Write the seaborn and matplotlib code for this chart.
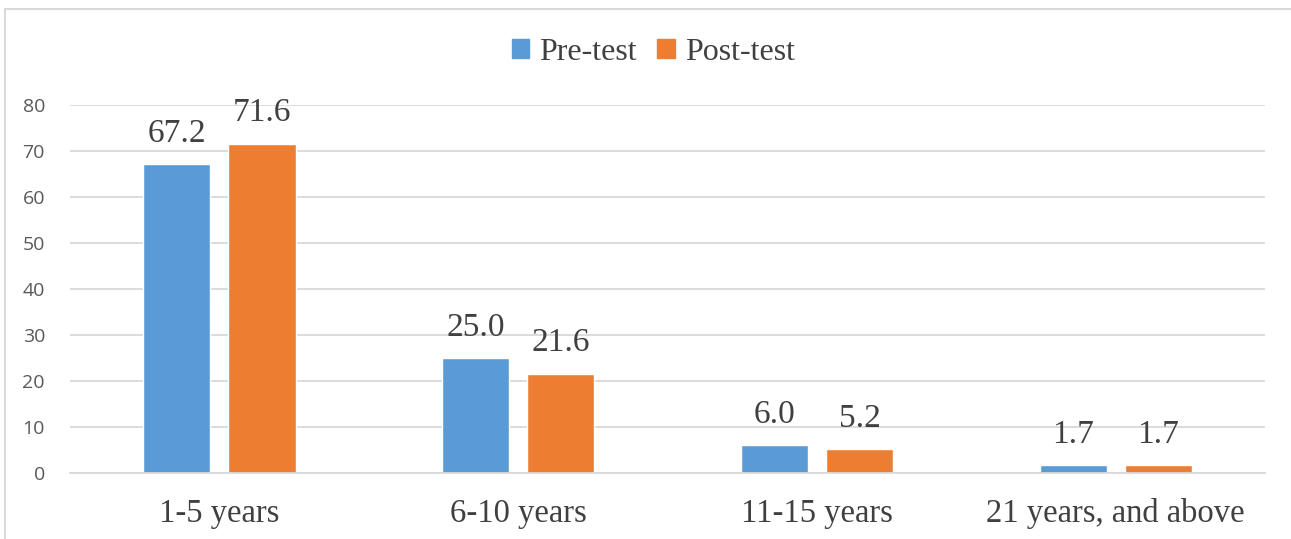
import matplotlib
matplotlib.use("Agg")
import matplotlib.pyplot as plt
from matplotlib.lines import Line2D
import seaborn as sns
import pandas as pd

# Years of experience groups and percentages for each test
categories = ["1-5 years", "6-10 years", "11-15 years", "21 years, and above"]
pre_test = [67.2, 25.0, 6.0, 1.7]
post_test = [71.6, 21.6, 5.2, 1.7]
series_names = ["Pre-test", "Post-test"]
y_ticks = [0, 10, 20, 30, 40, 50, 60, 70, 80]

colors = {"Pre-test": "#5B9BD5", "Post-test": "#ED7D31"}

df = pd.DataFrame({
    "category": categories * 2,
    "series": [series_names[0]] * len(categories) + [series_names[1]] * len(categories),
    "value": pre_test + post_test,
})

sns.set_theme(style="white")
serif = ["Liberation Serif", "DejaVu Serif"]
sans = ["Open Sans", "DejaVu Sans"]

fig = plt.figure(figsize=(12.91, 5.39), dpi=100)
ax = fig.add_axes([0.0542, 0.1224, 0.9258, 0.6828])

sns.barplot(data=df, x="category", y="value", hue="series",
            order=categories, hue_order=series_names, palette=colors,
            width=0.57, gap=0.21, saturation=1, errorbar=None, ax=ax,
            legend=False)

for container in ax.containers:
    ax.bar_label(container, fmt="%.1f", padding=11, fontsize=24,
                 family=serif, color="#404040")

ax.set_ylim(0, 80)
ax.set_xlim(-0.5, len(categories) - 0.5)
ax.set_yticks(y_ticks)
ax.set_yticklabels([str(t) for t in y_ticks], family=sans, fontsize=14,
                   color="#595959")
ax.set_xticks(range(len(categories)))
ax.set_xticklabels(categories, family=serif, fontsize=23.5, color="#404040")
ax.tick_params(axis="x", length=0, pad=18)
ax.tick_params(axis="y", length=0, pad=18)
ax.set_xlabel("")
ax.set_ylabel("")
ax.yaxis.grid(True, color="#D9D9D9", linewidth=1.3)
ax.set_axisbelow(True)
for side in ["top", "right", "left"]:
    ax.spines[side].set_visible(False)
ax.spines["bottom"].set_color("#D9D9D9")
ax.spines["bottom"].set_linewidth(1.3)

handles = [plt.Rectangle((0, 0), 1, 1, color=colors[s]) for s in series_names]
fig.legend(handles, series_names, loc="center", bbox_to_anchor=(0.506, 0.903),
           ncol=2, frameon=False, prop={"family": serif, "size": 23},
           labelcolor="#404040", handlelength=0.55, handleheight=0.55,
           handletextpad=0.3, columnspacing=0.65)

# Chart frame
fig.add_artist(Line2D([0.0039, 1.0], [0.983, 0.983], transform=fig.transFigure,
                      color="#D9D9D9", linewidth=1.5))
fig.add_artist(Line2D([0.0039, 0.0039], [0.0, 0.983], transform=fig.transFigure,
                      color="#D9D9D9", linewidth=1.5))

fig.savefig("out.png", dpi=100, facecolor="white")
